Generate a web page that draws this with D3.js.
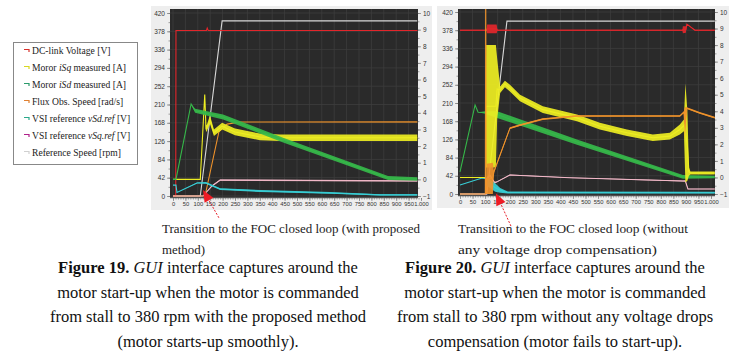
<!DOCTYPE html>
<html>
<head>
<meta charset="utf-8">
<script src="https://cdn.jsdelivr.net/npm/d3@7"></script>
<style>
  body { margin: 0; background: #fff; }
  svg { display: block; }
</style>
</head>
<body>
<script>
/* Axis ticks */
var timeTicks  = d3.range(0, 1001, 50);
var timeMinor  = d3.range(0, 1001, 10);
var leftTicks  = d3.range(0, 421, 42);
var leftMinor  = d3.range(0, 421, 21);
var rightTicks = d3.range(-1, 11, 1);
var rightMinor = d3.range(-1, 10.01, 0.5);

/* Figure 19 series, rows are [time, low, high] (band) */
var dcLink19   = [[0,0,0],[11,0,0],[12,379,381],[135,379,381],[138,384,387],[142,379,381],[985,379,381]];
var refSpeed19 = [[0,0,0],[110,0,0],[198,402,402],[985,402,402]];
var iSq19      = [[0,0,0],[110,0,0],[128,5.1,5.1],[133,2.85,3.25],[137,2.9,3.3],[149,3.35,3.85],[165,2.6,3.0],[198,3.0,3.4],[250,2.65,3.05],[351,2.35,2.75],[431,2.3,2.7],[985,2.3,2.7]];
var iSd19      = [[0,0,0],[12,0,0],[73,4.53,4.53],[89,4.0,4.25],[202,3.6,3.9],[444,2.22,2.5],[867,-0.04,0.2],[985,-0.08,0.12]];
var flux19     = [[0,0,0],[129,0,0],[185,147,147],[218,165,165],[270,170,170],[985,169,171]];
var vSq19      = [[0,0,0],[121,0,0],[157,22,24],[190,35,38],[985,33,36]];
var vSd19      = [[0,25,25],[12,25,25],[16,8,8],[97,29,31],[133,28,32],[190,14,18],[351,9,14],[633,5,9],[835,1,4],[985,1,4]];

/* Figure 20 series */
var dcLink20   = [[0,377,379],[106,377,379],[108,371,391],[146,371,391],[149,377,379],[886,377,379],[888,371,387],[900,372,387],[904,391,393],[936,377,379],[1015,377,379]];
var refSpeed20 = [[0,0,0],[107,0,0],[187,399,399],[1015,399,399]];
var iSq20      = [[0,0,0],[102,0,0],[104,0.6,8.0],[143,0.6,8.0],[148,3.5,7.2],[160,5.1,5.5],[179,5.45,5.85],[199,5.2,5.6],[239,4.6,5.0],[330,3.9,4.3],[466,3.4,3.8],[557,2.9,3.3],[665,2.5,2.9],[768,2.2,2.6],[836,2.3,2.7],[876,2.6,3.2],[892,2.8,3.5],[898,-0.3,5.7],[906,-0.2,4.0],[912,0.1,0.6],[918,0.18,0.36],[1015,0.18,0.36]];
var iSd20      = [[0,0.33,0.33],[60,4.38,4.38],[72,3.94,3.94],[100,3.85,4.0],[148,3.6,4.0],[466,1.98,2.3],[888,-0.08,0.15],[1015,-0.05,0.1]];
var flux20     = [[0,0,0],[101,0,0],[102.5,470,470],[104,0,0],[107,0,70],[131,0,72],[135,48,54],[199,150,154],[239,157,161],[330,171,175],[466,178,182],[876,178,182],[892,187,191],[896,125,200],[904,196,200],[955,185,189],[1015,174,178]];
var vSq20      = [[0,0,0],[105,0,0],[108,35,40],[120,40,45],[138,24,28],[147,27,29],[199,43,45],[438,37,38],[888,29,31],[898,28,32],[908,11,12],[1015,11,12]];
var vSd20      = [[0,21,21],[88,37,37],[103,35,36],[110,18,38],[140,5,25],[160,3,14],[190,1,6],[1015,1,5]];

/* Arrow annotations: [tail, tip] as [time, volts] */
var arrow19 = [[185,-50],[121,14]];
var arrow20 = [[203,-74],[143,2]];

/* Legend */
var legendItems = [
    { color: "#d8302a", parts: [["DC-link Voltage [V]"]] },
    { color: "#d8d820", parts: [["Moror "], ["iSq", 1], [" measured [A]"]] },
    { color: "#2a9a6a", parts: [["Moror "], ["iSd", 1], [" measured [A]"]] },
    { color: "#e08030", parts: [["Flux Obs. Speed [rad/s]"]] },
    { color: "#2aa88a", parts: [["VSI reference "], ["vSd.ref", 1], [" [V]"]] },
    { color: "#b0208a", parts: [["VSI reference "], ["vSq.ref", 1], [" [V]"]] },
    { color: "#d0d0d0", parts: [["Reference Speed [rpm]"]] }
];

/* Texts, with the line widths seen in the picture */
var noteLines19 = [["Transition to the FOC closed loop (with proposed", 258], ["method)", 43]];
var noteLines20 = [["Transition to the FOC closed loop (without", 230], ["any voltage drop compensation)", 199]];
var caption19 = [
    [["Figure 19.", "b"], [" "], ["GUI", "i"], [" interface captures around the"]],
    [["motor start-up when the motor is commanded"]],
    [["from stall to 380 rpm with the proposed method"]],
    [["(motor starts-up smoothly)."]]
];
var caption20 = [
    [["Figure 20.", "b"], [" "], ["GUI", "i"], [" interface captures around the"]],
    [["motor start-up when the motor is commanded"]],
    [["from stall to 380 rpm without any voltage drops"]],
    [["compensation (motor fails to start-up)."]]
];

/* Colours */
var colors = {
    dc: "#e3262b", iSq: "#eeee22", iSd: "#36b84a", flux: "#f0932b",
    vSq: "#f2b8c8", vSd: "#38cfd6", ref: "#d8d8d8"
};

var svg = d3.select("body").append("svg").attr("width", 739).attr("height", 355);

// Chart layouts
var layout19 = { id: "a", panel: [151, 6, 281, 204], plot: [170, 9, 418, 198], xr: [173, 421], yr: [196, 13] };
var layout20 = { id: "b", panel: [437, 6, 292, 202], plot: [458, 9, 715, 196], xr: [460, 711], yr: [194, 12] };

function drawChart(L, series, arrow) {
    var g = svg.append("g");
    var x  = d3.scaleLinear().domain([0, 1000]).range(L.xr);
    var yL = d3.scaleLinear().domain([0, 420]).range(L.yr);
    var yR = d3.scaleLinear().domain([-1, 10]).range(L.yr);
    var p = L.plot;

    g.append("rect").attr("x", L.panel[0]).attr("y", L.panel[1])
        .attr("width", L.panel[2]).attr("height", L.panel[3]).attr("fill", "#eeeeee");
    g.append("rect").attr("x", p[0]).attr("y", p[1])
        .attr("width", p[2] - p[0]).attr("height", p[3] - p[1]).attr("fill", "#2a2a2a");

    g.append("clipPath").attr("id", "clip" + L.id).append("rect")
        .attr("x", p[0]).attr("y", p[1]).attr("width", p[2] - p[0]).attr("height", p[3] - p[1]);

    // Grid
    var grid = g.append("g").attr("clip-path", "url(#clip" + L.id + ")")
        .attr("stroke", "#3e3e3e").attr("stroke-width", 0.8);
    grid.selectAll(".gx").data(timeTicks).enter().append("line")
        .attr("x1", function (d) { return x(d); }).attr("x2", function (d) { return x(d); })
        .attr("y1", p[1]).attr("y2", p[3]);
    grid.selectAll(".gy").data(leftTicks).enter().append("line")
        .attr("y1", function (d) { return yL(d); }).attr("y2", function (d) { return yL(d); })
        .attr("x1", p[0]).attr("x2", p[2]);

    // Traces
    var traces = g.append("g").attr("clip-path", "url(#clip" + L.id + ")");
    series.forEach(function (s) {
        var y = s.axis === "right" ? yR : yL;
        var area = d3.area()
            .x(function (d) { return x(d[0]); })
            .y0(function (d) { return y(d[1]); })
            .y1(function (d) { return y(d[2]); });
        var line = d3.line()
            .x(function (d) { return x(d[0]); })
            .y(function (d) { return y((d[1] + d[2]) / 2); });
        traces.append("path").attr("d", area(s.data)).attr("fill", s.color).attr("opacity", 0.92);
        traces.append("path").attr("d", line(s.data)).attr("fill", "none")
            .attr("stroke", s.color).attr("stroke-width", 1.1);
    });

    // Axes
    var axes = g.append("g").attr("font-family", "DejaVu Sans").attr("fill", "#333");
    var xa = axes.append("g").attr("transform", "translate(0," + p[3] + ")")
        .call(d3.axisBottom(x).tickValues(timeTicks).tickSize(3).tickPadding(1)
            .tickFormat(function (d) { return d === 1000 ? "1.000" : d; }));
    axes.append("g").attr("transform", "translate(0," + p[3] + ")")
        .call(d3.axisBottom(x).tickValues(timeMinor).tickSize(1.5).tickFormat(""));
    var ya = axes.append("g").attr("transform", "translate(" + p[0] + ",0)")
        .call(d3.axisLeft(yL).tickValues(leftTicks).tickSize(3).tickPadding(2));
    axes.append("g").attr("transform", "translate(" + p[0] + ",0)")
        .call(d3.axisLeft(yL).tickValues(leftMinor).tickSize(1.5).tickFormat(""));
    var yb = axes.append("g").attr("transform", "translate(" + p[2] + ",0)")
        .call(d3.axisRight(yR).tickValues(rightTicks).tickSize(3).tickPadding(2));
    axes.append("g").attr("transform", "translate(" + p[2] + ",0)")
        .call(d3.axisRight(yR).tickValues(rightMinor).tickSize(1.5).tickFormat(""));

    axes.selectAll(".domain").remove();
    axes.selectAll(".tick line").attr("stroke", "#777").attr("stroke-width", 0.7);
    axes.selectAll(".tick text").attr("fill", "#333");
    xa.selectAll("text").attr("font-size", 5.8);
    ya.selectAll("text").attr("font-size", 6.5);
    yb.selectAll("text").attr("font-size", 6.5);
    axes.append("line").attr("x1", p[0]).attr("x2", p[2]).attr("y1", p[3]).attr("y2", p[3])
        .attr("stroke", "#888").attr("stroke-width", 0.8);

    // Arrow
    var tail = [x(arrow[0][0]), yL(arrow[0][1])];
    var tip  = [x(arrow[1][0]), yL(arrow[1][1])];
    var ang = Math.atan2(tip[1] - tail[1], tip[0] - tail[0]);
    var len = 12, half = 5;
    var bx = tip[0] - len * Math.cos(ang), by = tip[1] - len * Math.sin(ang);
    g.append("line").attr("x1", tail[0]).attr("y1", tail[1]).attr("x2", bx).attr("y2", by)
        .attr("stroke", "#e8202a").attr("stroke-width", 1).attr("stroke-dasharray", "2,1.5");
    g.append("path")
        .attr("d", "M" + tip[0] + "," + tip[1] +
            "L" + (bx + half * Math.sin(ang)) + "," + (by - half * Math.cos(ang)) +
            "L" + (bx - half * Math.sin(ang)) + "," + (by + half * Math.cos(ang)) + "Z")
        .attr("fill", "#ee1c25");
}

drawChart(layout19, [
    { data: refSpeed19, color: colors.ref,  axis: "left" },
    { data: dcLink19,   color: colors.dc,   axis: "left" },
    { data: flux19,     color: colors.flux, axis: "left" },
    { data: vSq19,      color: colors.vSq,  axis: "left" },
    { data: vSd19,      color: colors.vSd,  axis: "left" },
    { data: iSq19,      color: colors.iSq,  axis: "right" },
    { data: iSd19,      color: colors.iSd,  axis: "right" }
], arrow19);

drawChart(layout20, [
    { data: refSpeed20, color: colors.ref,  axis: "left" },
    { data: dcLink20,   color: colors.dc,   axis: "left" },
    { data: vSq20,      color: colors.vSq,  axis: "left" },
    { data: vSd20,      color: colors.vSd,  axis: "left" },
    { data: iSd20,      color: colors.iSd,  axis: "right" },
    { data: iSq20,      color: colors.iSq,  axis: "right" },
    { data: flux20,     color: colors.flux, axis: "left" }
], arrow20);

/* Legend box */
var lg = svg.append("g");
lg.append("rect").attr("x", 13.5).attr("y", 42.5).attr("width", 124).attr("height", 122)
    .attr("fill", "#fff").attr("stroke", "#888").attr("stroke-width", 1);
legendItems.forEach(function (item, i) {
    var y = 51 + i * 17;
    lg.append("path").attr("d", "M24," + (y - 1.5) + "h5v2.5")
        .attr("fill", "none").attr("stroke", item.color).attr("stroke-width", 1.2);
    var t = lg.append("text").attr("x", 32).attr("y", y + 3)
        .attr("font-family", "Liberation Serif").attr("font-size", 9.6).attr("fill", "#222");
    item.parts.forEach(function (pt) {
        t.append("tspan").text(pt[0]).attr("font-style", pt[1] ? "italic" : null);
    });
});

/* Notes under charts */
function drawNote(lines, x0) {
    lines.forEach(function (ln, i) {
        svg.append("text").attr("x", x0).attr("y", 233 + i * 21)
            .attr("font-family", "Liberation Serif").attr("font-size", 13).attr("fill", "#222")
            .attr("textLength", ln[1]).attr("lengthAdjust", "spacingAndGlyphs")
            .text(ln[0]);
    });
}
drawNote(noteLines19, 162);
drawNote(noteLines20, 458);

/* Captions */
function drawCaption(lines, cx) {
    lines.forEach(function (parts, i) {
        var t = svg.append("text").attr("x", cx).attr("y", 273 + i * 24.7)
            .attr("text-anchor", "middle").attr("font-family", "Liberation Serif")
            .attr("font-size", 16.5).attr("fill", "#111");
        parts.forEach(function (pt) {
            t.append("tspan").text(pt[0])
                .attr("font-weight", pt[1] === "b" ? "bold" : null)
                .attr("font-style", pt[1] === "i" ? "italic" : null);
        });
    });
}
drawCaption(caption19, 208);
drawCaption(caption20, 555);
</script>
</body>
</html>
